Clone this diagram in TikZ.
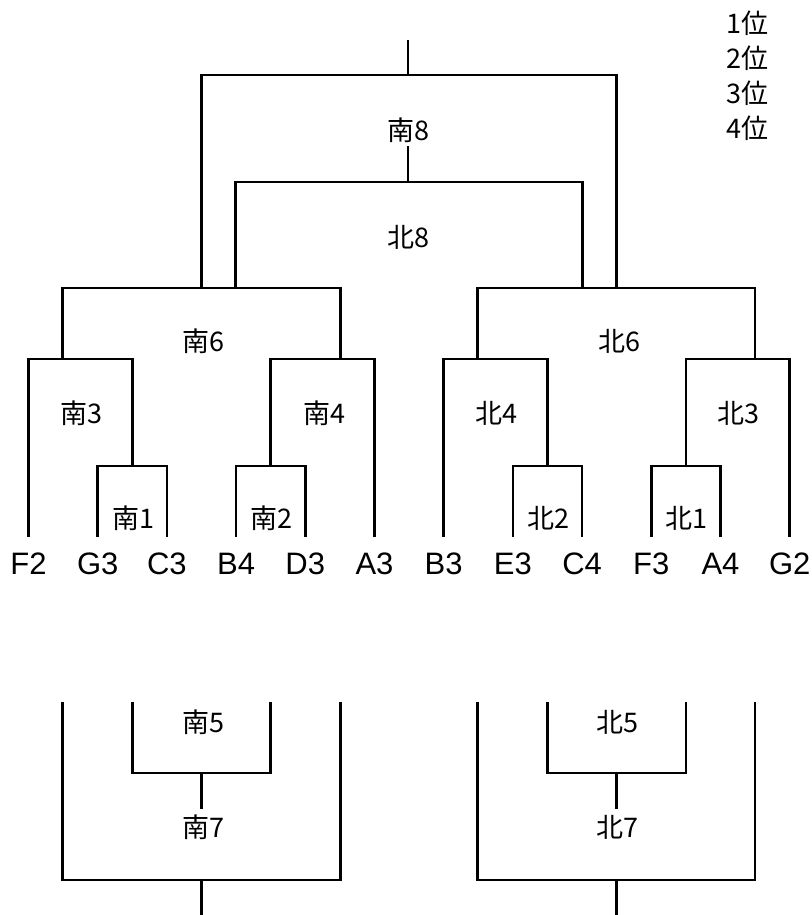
\documentclass[tikz,border=0pt]{standalone}
\usepackage{fontspec}
\setmainfont{Liberation Sans}
\newfontfamily\jpfont{Noto Sans CJK JP}
\usepackage{tikz}
\tikzset{%
  bracket/.style={line width=2.6pt,black},
  match/.style={font=\jpfont\fontsize{27}{27}\selectfont,inner sep=1pt},
  team/.style={font=\fontsize{31}{31}\selectfont,inner sep=1pt},
  rank/.style={font=\jpfont\fontsize{27}{27}\selectfont,inner sep=1pt}
}

\begin{document}
\begin{tikzpicture}[x=1pt,y=-1pt]
  \useasboundingbox (0,0) rectangle (811,915);

  % leaf tops and team names
  \coordinate (tF2) at (28.5,537);  \node[team] (F2) at (28.5,564) {F2};
  \coordinate (tG3) at (97.7,537);  \node[team] (G3) at (97.7,564) {G3};
  \coordinate (tC3) at (166.9,537); \node[team] (C3) at (166.9,564) {C3};
  \coordinate (tB4) at (236.1,537); \node[team] (B4) at (236.1,564) {B4};
  \coordinate (tD3) at (305.3,537); \node[team] (D3) at (305.3,564) {D3};
  \coordinate (tA3) at (374.5,537); \node[team] (A3) at (374.5,564) {A3};
  \coordinate (tB3) at (443.7,537); \node[team] (B3) at (443.7,564) {B3};
  \coordinate (tE3) at (512.9,537); \node[team] (E3) at (512.9,564) {E3};
  \coordinate (tC4) at (582.1,537); \node[team] (C4) at (582.1,564) {C4};
  \coordinate (tF3) at (651.3,537); \node[team] (F3) at (651.3,564) {F3};
  \coordinate (tA4) at (720.5,537); \node[team] (A4) at (720.5,564) {A4};
  \coordinate (tG2) at (789.7,537); \node[team] (G2) at (789.7,564) {G2};

  % joints of the upper bracket
  \coordinate (s1) at (132.3,466);
  \coordinate (s2) at (270.7,466);
  \coordinate (s3) at (62.4,359);
  \coordinate (s4) at (340.6,359);
  \coordinate (s6) at (201.5,288);
  \coordinate (s6b) at (235.6,288);
  \coordinate (n2) at (547.5,466);
  \coordinate (n1) at (685.9,466);
  \coordinate (n4) at (477.4,359);
  \coordinate (n3) at (755,359);
  \coordinate (n6) at (616.2,288);
  \coordinate (n6b) at (582.4,288);
  \coordinate (top) at (408,75);
  \coordinate (win) at (408,40);
  \coordinate (mid) at (408,182);
  \coordinate (midend) at (408,146);

  % south half
  \draw[bracket] (tG3) |- (s1) -| (tC3);
  \draw[bracket] (tB4) |- (s2) -| (tD3);
  \draw[bracket] (tF2) |- (s3) -| (s1);
  \draw[bracket] (tA3) |- (s4) -| (s2);
  \draw[bracket] (s3) |- (s6) -| (s4);
  % north half
  \draw[bracket] (tE3) |- (n2) -| (tC4);
  \draw[bracket] (tF3) |- (n1) -| (tA4);
  \draw[bracket] (tB3) |- (n4) -| (n2);
  \draw[bracket] (tG2) |- (n3) -| (n1);
  \draw[bracket] (n4) |- (n6) -| (n3);
  % finals
  \draw[bracket] (s6) |- (top) -| (n6);
  \draw[bracket] (top) -- (win);
  \draw[bracket] (s6b) |- (mid) -| (n6b);
  \draw[bracket] (mid) -- (midend);

  \node[match] (m8s) at (408,130) {南8};
  \node[match] (m8n) at (408,237) {北8};
  \node[match] (m6s) at (203,341) {南6};
  \node[match] (m6n) at (619,341) {北6};
  \node[match] (m3s) at (81,413) {南3};
  \node[match] (m4s) at (324,413) {南4};
  \node[match] (m4n) at (496,413) {北4};
  \node[match] (m3n) at (738,413) {北3};
  \node[match] (m1s) at (133,518) {南1};
  \node[match] (m2s) at (271,518) {南2};
  \node[match] (m2n) at (548,518) {北2};
  \node[match] (m1n) at (686,518) {北1};

  % lower brackets
  \coordinate (u3) at (62.4,702);
  \coordinate (u1) at (132.3,702);
  \coordinate (u2) at (270.7,702);
  \coordinate (u4) at (340.6,702);
  \coordinate (s5) at (201.5,773);
  \coordinate (s5end) at (201.5,809);
  \coordinate (s7) at (201.5,880);
  \coordinate (s7end) at (201.5,915);
  \coordinate (v4) at (477.4,702);
  \coordinate (v2) at (547.5,702);
  \coordinate (v1) at (685.9,702);
  \coordinate (v3) at (755,702);
  \coordinate (n5) at (616.2,773);
  \coordinate (n5end) at (616.2,809);
  \coordinate (n7) at (616.2,880);
  \coordinate (n7end) at (616.2,915);

  \draw[bracket] (u1) |- (s5) -| (u2);
  \draw[bracket] (s5) -- (s5end);
  \draw[bracket] (u3) |- (s7) -| (u4);
  \draw[bracket] (s7) -- (s7end);
  \draw[bracket] (v2) |- (n5) -| (v1);
  \draw[bracket] (n5) -- (n5end);
  \draw[bracket] (v4) |- (n7) -| (v3);
  \draw[bracket] (n7) -- (n7end);

  \node[match] (m5s) at (203,722) {南5};
  \node[match] (m7s) at (203,827) {南7};
  \node[match] (m5n) at (617,722) {北5};
  \node[match] (m7n) at (617,827) {北7};

  % ranking
  \node[rank] (r1) at (747,23) {1位};
  \node[rank] (r2) at (747,58) {2位};
  \node[rank] (r3) at (747,93) {3位};
  \node[rank] (r4) at (747,128) {4位};
\end{tikzpicture}
\end{document}
